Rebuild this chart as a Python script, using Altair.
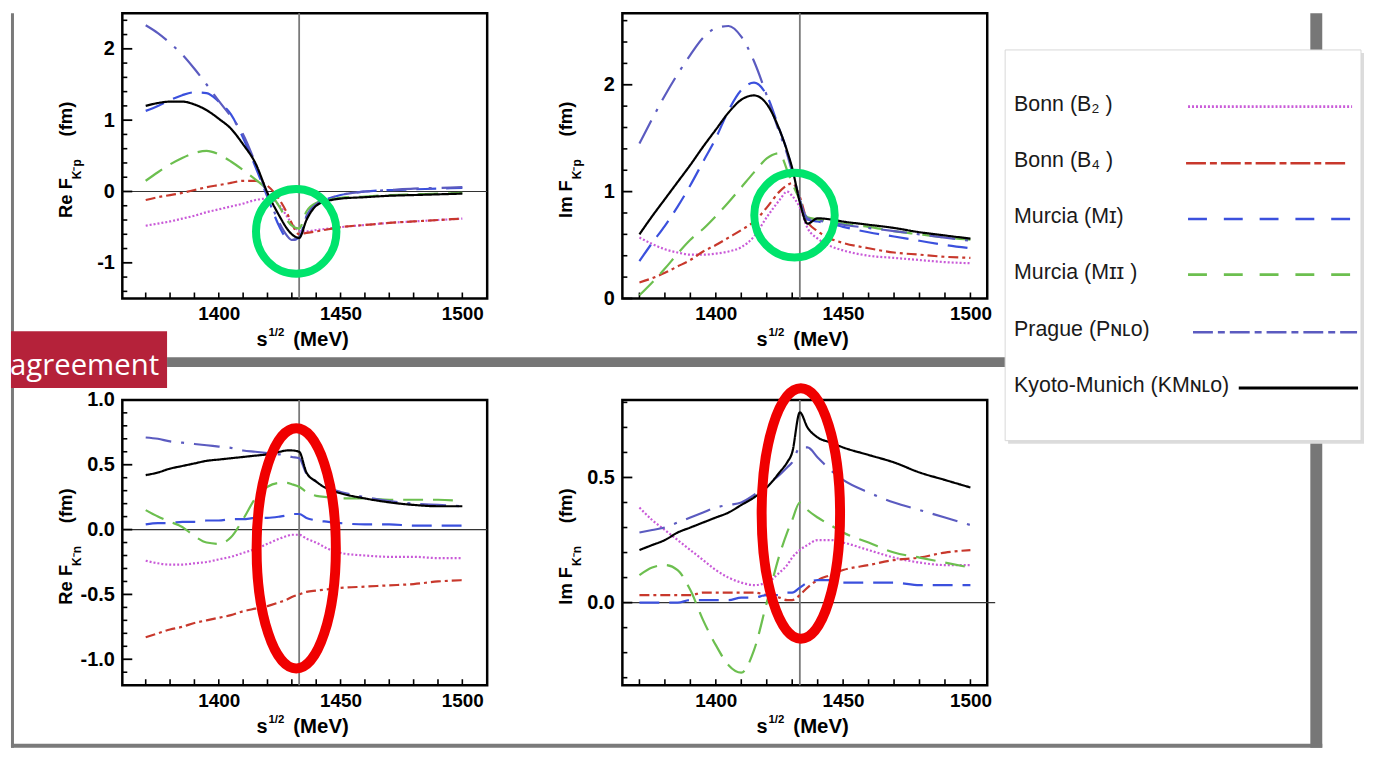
import altair as alt
import pandas as pd

# ---------------- data ----------------
x_mev = [1370, 1375, 1380, 1385, 1390, 1395, 1400, 1405, 1410, 1415, 1420, 1425,
         1428, 1430, 1433, 1436, 1440, 1445, 1450, 1460, 1470, 1480, 1490, 1500]
threshold = [1433]
x_ticks = [1370, 1380, 1390, 1400, 1410, 1420, 1430, 1440, 1450, 1460, 1470, 1480, 1490, 1500]
x_labels = [1400, 1450, 1500]

series_names = ["Bonn (B2)", "Bonn (B4)", "Murcia (MI)", "Murcia (MII)", "Prague (PNLO)", "Kyoto-Munich (KMNLO)"]
legend_labels = ["Bonn (B\u2082 )", "Bonn (B\u2084 )", "Murcia (M\u026a)", "Murcia (M\u026a\u026a )",
                 "Prague (P\u0274\u029f\u1d0f)", "Kyoto-Munich (KM\u0274\u029f\u1d0f)"]
series_colors = ["#c95ad8", "#c8382c", "#3b50dd", "#6cbf4f", "#5b5bc0", "#000000"]
plot_dashes = [[2, 2], [10, 4, 3, 4], [20, 10], [20, 10], [26, 10, 3, 10], [1, 0]]
legend_dashes = [[2, 2], [20, 4, 7, 4], [19, 17], [19, 17], [20, 5, 7, 5], [1, 0]]
line_widths = [2.2, 2.2, 2.4, 2.4, 2.2, 2.6]

# Re F(K-p)
re_kp_b2 = [-0.48, -0.45, -0.42, -0.38, -0.34, -0.29, -0.25, -0.21, -0.17, -0.12, -0.10, -0.20, -0.35, -0.45,
            -0.55, -0.56, -0.54, -0.52, -0.50, -0.47, -0.44, -0.42, -0.40, -0.38]
re_kp_b4 = [-0.12, -0.08, -0.05, -0.02, 0.02, 0.06, 0.09, 0.12, 0.15, 0.15, 0.08, -0.12, -0.30, -0.45,
            -0.60, -0.58, -0.56, -0.53, -0.50, -0.47, -0.44, -0.42, -0.40, -0.38]
re_kp_mi = [1.13, 1.20, 1.28, 1.35, 1.39, 1.38, 1.26, 1.08, 0.75, 0.35, -0.08, -0.50, -0.66, -0.68,
            -0.65, -0.35, -0.17, -0.10, -0.05, 0.00, 0.02, 0.03, 0.04, 0.05]
re_kp_mii = [0.15, 0.27, 0.38, 0.47, 0.54, 0.57, 0.52, 0.42, 0.30, 0.17, 0.02, -0.22, -0.40, -0.48,
             -0.52, -0.28, -0.16, -0.12, -0.09, -0.07, -0.05, -0.04, -0.03, -0.02]
re_kp_prague = [2.33, 2.22, 2.08, 1.92, 1.72, 1.50, 1.27, 1.05, 0.80, 0.40, -0.05, -0.45, -0.62, -0.68,
                -0.65, -0.35, -0.18, -0.10, -0.05, 0.00, 0.02, 0.04, 0.05, 0.06]
re_kp_kyoto = [1.20, 1.24, 1.26, 1.26, 1.22, 1.14, 1.02, 0.88, 0.66, 0.40, -0.02, -0.35, -0.52, -0.60,
               -0.65, -0.40, -0.20, -0.13, -0.10, -0.08, -0.06, -0.05, -0.04, -0.03]

# Im F(K-p)
im_kp_b2 = [0.57, 0.51, 0.46, 0.43, 0.41, 0.41, 0.42, 0.44, 0.48, 0.58, 0.76, 0.92, 1.00, 0.96,
            0.85, 0.66, 0.56, 0.49, 0.45, 0.40, 0.38, 0.36, 0.34, 0.33]
im_kp_b4 = [0.15, 0.19, 0.24, 0.30, 0.36, 0.44, 0.50, 0.57, 0.64, 0.72, 0.85, 1.00, 1.06, 1.08,
            0.95, 0.72, 0.63, 0.56, 0.52, 0.47, 0.43, 0.41, 0.39, 0.38]
im_kp_mi = [0.35, 0.52, 0.68, 0.86, 1.06, 1.28, 1.50, 1.76, 1.95, 2.02, 1.90, 1.58, 1.38, 1.20,
            0.92, 0.74, 0.72, 0.70, 0.67, 0.62, 0.58, 0.54, 0.50, 0.47]
im_kp_mii = [0.03, 0.15, 0.28, 0.42, 0.55, 0.65, 0.77, 0.90, 1.04, 1.18, 1.31, 1.36, 1.20, 1.08,
             0.92, 0.76, 0.74, 0.72, 0.70, 0.67, 0.63, 0.60, 0.57, 0.55]
im_kp_prague = [1.45, 1.68, 1.90, 2.10, 2.28, 2.44, 2.53, 2.55, 2.45, 2.22, 1.90, 1.55, 1.35, 1.18,
                0.92, 0.75, 0.73, 0.71, 0.69, 0.66, 0.63, 0.60, 0.57, 0.54]
im_kp_kyoto = [0.60, 0.77, 0.93, 1.09, 1.25, 1.42, 1.58, 1.74, 1.86, 1.90, 1.82, 1.58, 1.38, 1.22,
               0.90, 0.70, 0.75, 0.74, 0.72, 0.69, 0.66, 0.62, 0.59, 0.56]

# Re F(K-n)
re_kn_b2 = [-0.24, -0.26, -0.27, -0.27, -0.26, -0.25, -0.23, -0.21, -0.18, -0.15, -0.11, -0.07, -0.05, -0.04,
            -0.04, -0.07, -0.10, -0.15, -0.18, -0.20, -0.21, -0.21, -0.22, -0.22]
re_kn_b4 = [-0.83, -0.80, -0.77, -0.75, -0.72, -0.70, -0.68, -0.66, -0.63, -0.61, -0.59, -0.56, -0.54, -0.52,
            -0.50, -0.48, -0.47, -0.46, -0.45, -0.44, -0.43, -0.42, -0.40, -0.39]
re_kn_mi = [0.04, 0.05, 0.05, 0.06, 0.06, 0.07, 0.07, 0.08, 0.08, 0.09, 0.09, 0.10, 0.11, 0.12,
            0.12, 0.09, 0.07, 0.06, 0.05, 0.04, 0.04, 0.03, 0.03, 0.03]
re_kn_mii = [0.15, 0.10, 0.06, 0.02, -0.05, -0.10, -0.11, -0.06, 0.08, 0.24, 0.33, 0.36, 0.36, 0.35,
             0.33, 0.29, 0.26, 0.25, 0.24, 0.24, 0.23, 0.23, 0.23, 0.22]
re_kn_prague = [0.71, 0.70, 0.68, 0.67, 0.66, 0.65, 0.64, 0.63, 0.61, 0.60, 0.59, 0.58, 0.57, 0.56,
                0.55, 0.43, 0.37, 0.32, 0.29, 0.25, 0.22, 0.20, 0.19, 0.18]
re_kn_kyoto = [0.42, 0.44, 0.47, 0.49, 0.51, 0.53, 0.54, 0.55, 0.56, 0.57, 0.58, 0.60, 0.61, 0.61,
               0.60, 0.44, 0.37, 0.31, 0.28, 0.24, 0.21, 0.19, 0.18, 0.18]

# Im F(K-n)
im_kn_b2 = [0.38, 0.33, 0.29, 0.25, 0.21, 0.17, 0.13, 0.10, 0.08, 0.07, 0.08, 0.12, 0.15, 0.18,
            0.21, 0.23, 0.25, 0.25, 0.24, 0.21, 0.18, 0.16, 0.15, 0.15]
im_kn_b4 = [0.03, 0.03, 0.03, 0.03, 0.03, 0.04, 0.04, 0.04, 0.04, 0.04, 0.03, 0.02, 0.01, 0.01,
            0.03, 0.06, 0.09, 0.11, 0.13, 0.15, 0.17, 0.18, 0.20, 0.21]
im_kn_mi = [0.00, 0.00, 0.00, 0.00, 0.01, 0.01, 0.01, 0.01, 0.02, 0.02, 0.03, 0.03, 0.04, 0.04,
            0.06, 0.08, 0.09, 0.09, 0.08, 0.08, 0.08, 0.07, 0.07, 0.07]
im_kn_mii = [0.11, 0.14, 0.15, 0.13, 0.05, -0.07, -0.17, -0.25, -0.28, -0.19, 0.00, 0.19, 0.28, 0.33,
             0.40, 0.37, 0.34, 0.31, 0.28, 0.24, 0.20, 0.18, 0.16, 0.14]
im_kn_prague = [0.28, 0.29, 0.30, 0.32, 0.34, 0.36, 0.38, 0.39, 0.40, 0.43, 0.47, 0.51, 0.54, 0.56,
                0.62, 0.62, 0.58, 0.53, 0.49, 0.44, 0.40, 0.37, 0.34, 0.31]
im_kn_kyoto = [0.21, 0.23, 0.25, 0.28, 0.30, 0.32, 0.34, 0.36, 0.39, 0.42, 0.46, 0.52, 0.56, 0.60,
               0.76, 0.70, 0.66, 0.64, 0.62, 0.59, 0.56, 0.52, 0.49, 0.46]

# highlighted regions (centre in data coordinates)
circle_x = [1431.8, 1430.9, 1431.8, 1433.4]
circle_v = [-0.56, 0.78, -0.145, 0.356]

# ---------------- styling ----------------
FONT = "Liberation Sans"
W, H = 367, 287


def ellipse_path(a):
    k = 0.5523
    return (f"M {a:.4f} 0 C {a:.4f} {k} {a * k:.4f} 1 0 1 C {-a * k:.4f} 1 {-a:.4f} {k} {-a:.4f} 0 "
            f"C {-a:.4f} {-k} {-a * k:.4f} -1 0 -1 C {a * k:.4f} -1 {a:.4f} {-k} {a:.4f} 0 Z")


def xenc(dom):
    return alt.X("x:Q", scale=alt.Scale(domain=dom, nice=False, zero=False),
                 axis=alt.Axis(values=x_labels, title=None, ticks=False, tickSize=0, domain=False, grid=False,
                               labelFont=FONT, labelFontSize=19, labelFontWeight="bold", labelColor="black",
                               labelPadding=6, format="d", labelFlush=False, labelOverlap=False))


def yenc(dom, major, fmt):
    return alt.Y("v:Q", scale=alt.Scale(domain=dom, nice=False, zero=False),
                 axis=alt.Axis(values=major, title=None, ticks=False, tickSize=0, domain=False, grid=False,
                               labelFont=FONT, labelFontSize=20, labelFontWeight="bold", labelColor="black",
                               labelPadding=8, labelFlush=False, labelOverlap=False,
                               labelExpr=f"replace(format(datum.value, '{fmt}'), '\u2212', '-')"))


one = pd.DataFrame({"k": [0]})


def txt(s, x, y, size, weight="bold", angle=0, align="left", baseline="alphabetic", color="black", font=FONT):
    kw = dict(text=s, fontSize=size, fontWeight=weight, align=align, baseline=baseline, color=color, font=font)
    if angle:
        kw["angle"] = angle
    return alt.Chart(one).mark_text(**kw).encode(x=alt.value(x), y=alt.value(y))


def box(x1, x2, y1, y2, color, **kw):
    return alt.Chart(one).mark_rect(color=color, **kw).encode(
        x=alt.value(x1), x2=alt.value(x2), y=alt.value(y1), y2=alt.value(y2))


def panel(idx, series, xdom, ydom, ymaj, ymin, fmt, word, sub, zero_ext, ring_color, ring_a, ring_ry, ring_w, extra):
    rows = []
    for name, vals in zip(series_names, series):
        for xv, yv in zip(x_mev, vals):
            rows.append({"x": xv, "v": yv, "series": name})
    df = pd.DataFrame(rows)
    X = xenc(xdom)
    Y = yenc(ydom, ymaj, fmt)

    layers = []
    if zero_ext is not None:
        layers.append(alt.Chart(pd.DataFrame({"v": [0]})).mark_rule(color="#333333", strokeWidth=1.2).encode(
            y=Y, x=alt.value(0), x2=alt.value(W + zero_ext)))
    layers.append(alt.Chart(pd.DataFrame({"x": threshold})).mark_rule(color="#7a7a7a", strokeWidth=1.8).encode(
        x=X, y=alt.value(0), y2=alt.value(H)))
    layers.append(alt.Chart(pd.DataFrame({"x": x_ticks})).mark_rule(color="black", strokeWidth=1.6).encode(
        x=X, y=alt.value(H), y2=alt.value(H - 6)))
    layers.append(alt.Chart(pd.DataFrame({"v": ymaj})).mark_rule(color="black", strokeWidth=1.8).encode(
        y=Y, x=alt.value(0), x2=alt.value(10)))
    layers.append(alt.Chart(pd.DataFrame({"v": ymin})).mark_rule(color="black", strokeWidth=1.6).encode(
        y=Y, x=alt.value(0), x2=alt.value(5)))
    layers.append(alt.Chart(df).mark_line(interpolate="monotone").encode(
        x=X, y=Y,
        color=alt.Color("series:N", scale=alt.Scale(domain=series_names, range=series_colors), legend=None),
        strokeDash=alt.StrokeDash("series:N", scale=alt.Scale(domain=series_names, range=plot_dashes), legend=None),
        strokeWidth=alt.StrokeWidth("series:N", scale=alt.Scale(domain=series_names, range=line_widths), legend=None),
        order=alt.Order("ord:Q")
    ).transform_calculate(ord="0"))
    layers.append(alt.Chart(pd.DataFrame({"x": [circle_x[idx]], "v": [circle_v[idx]]})).mark_point(
        shape=ellipse_path(ring_a), size=(2 * ring_ry) ** 2, filled=False, color=ring_color,
        strokeWidth=ring_w, opacity=1).encode(x=X, y=Y))
    # y title  (Re F_{K-p} (fm))
    layers.append(txt(word, -57, 206, 18.5, angle=270, baseline="middle"))
    layers.append(txt(sub, -46, 167, 12, angle=270, baseline="middle"))
    layers.append(txt("(fm)", -57, 124, 18.5, angle=270, baseline="middle"))
    # x title  (s^1/2 (MeV))
    layers.append(txt("s", 135, H + 48, 20))
    layers.append(txt("1/2", 147, H + 38, 11.5))
    layers.append(txt("(MeV)", 172, H + 48, 20.5))
    layers.extend(extra)
    return alt.layer(*layers).properties(width=W, height=H)


# decorations of the slide (panel-1 coordinates)
slide = [
    box(-112, -109, 0, 739, "#7a7a7a"),
    box(-112, 1207, 735, 739, "#7a7a7a"),
    box(1195, 1207, 0, 739, "#777777"),
    box(45, 1207, 346, 356, "#767676"),
    box(-112, 45, 320, 377, "#b5223a"),
    txt("agreement", 37, 364, 29.5, weight="normal", align="right", color="white", font="Open Sans"),
]

# legend (panel-2 coordinates)
legend_rows_y = [92, 149, 205, 261, 319, 375]
legend_line_x = [(569, 734), (567, 731), (569, 734), (569, 734), (574, 739), (620, 740)]
legend = [box(388, 746, 40, 433, "#dcdcdc"), box(385, 743, 37, 430, "white", stroke="#d8d8d8", strokeWidth=1)]
for i, lab in enumerate(legend_labels):
    legend.append(txt(lab, 394, legend_rows_y[i], 21.5, weight="normal", baseline="middle", color="#1a1a1a"))
    x1, x2 = legend_line_x[i]
    legend.append(alt.Chart(one).mark_rule(color=series_colors[i], strokeDash=legend_dashes[i],
                                           strokeWidth=3 if i == 5 else 2.6).encode(
        x=alt.value(x1), x2=alt.value(x2), y=alt.value(legend_rows_y[i] + 2)))

p1 = panel(0, [re_kp_b2, re_kp_b4, re_kp_mi, re_kp_mii, re_kp_prague, re_kp_kyoto],
           [1360.4, 1510.2], [-1.5, 2.5], [-1, 0, 1, 2],
           [-1.4, -1.2, -0.8, -0.6, -0.4, -0.2, 0.2, 0.4, 0.6, 0.8, 1.2, 1.4, 1.6, 1.8, 2.2, 2.4],
           ".0f", "Re F", "K\u207bp", 0, "#00e46c", 0.95, 42.6, 8, slide)
p2 = panel(1, [im_kp_b2, im_kp_b4, im_kp_mi, im_kp_mii, im_kp_prague, im_kp_kyoto],
           [1363.3, 1506.6], [0, 2.67], [0, 1, 2],
           [0.2, 0.4, 0.6, 0.8, 1.2, 1.4, 1.6, 1.8, 2.2, 2.4, 2.6],
           ".0f", "Im F", "K\u207bp", None, "#00e46c", 0.95, 42.6, 8, legend)
p3 = panel(2, [re_kn_b2, re_kn_b4, re_kn_mi, re_kn_mii, re_kn_prague, re_kn_kyoto],
           [1360.4, 1510.2], [-1.2, 1.0], [-1.0, -0.5, 0.0, 0.5, 1.0],
           [-1.1, -0.9, -0.8, -0.7, -0.6, -0.4, -0.3, -0.2, -0.1, 0.1, 0.2, 0.3, 0.4, 0.6, 0.7, 0.8, 0.9],
           ".1f", "Re F", "K\u207bn", 0, "#f00000", 0.33, 120.8, 10, [])
p4 = panel(3, [im_kn_b2, im_kn_b4, im_kn_mi, im_kn_mii, im_kn_prague, im_kn_kyoto],
           [1363.3, 1506.6], [-0.33, 0.81], [0.0, 0.5],
           [-0.3, -0.2, -0.1, 0.1, 0.2, 0.3, 0.4, 0.6, 0.7, 0.8],
           ".1f", "Im F", "K\u207bn", 8, "#f00000", 0.313, 126, 10, [])

chart = alt.concat(p1, p2, p3, p4, columns=2, spacing={"row": 102, "column": 136}, bounds="flush").properties(
    padding=0, background="white"
).configure_view(stroke="black", strokeWidth=2.5)

chart.save("out.html", embed_options={"renderer": "svg", "actions": False})
